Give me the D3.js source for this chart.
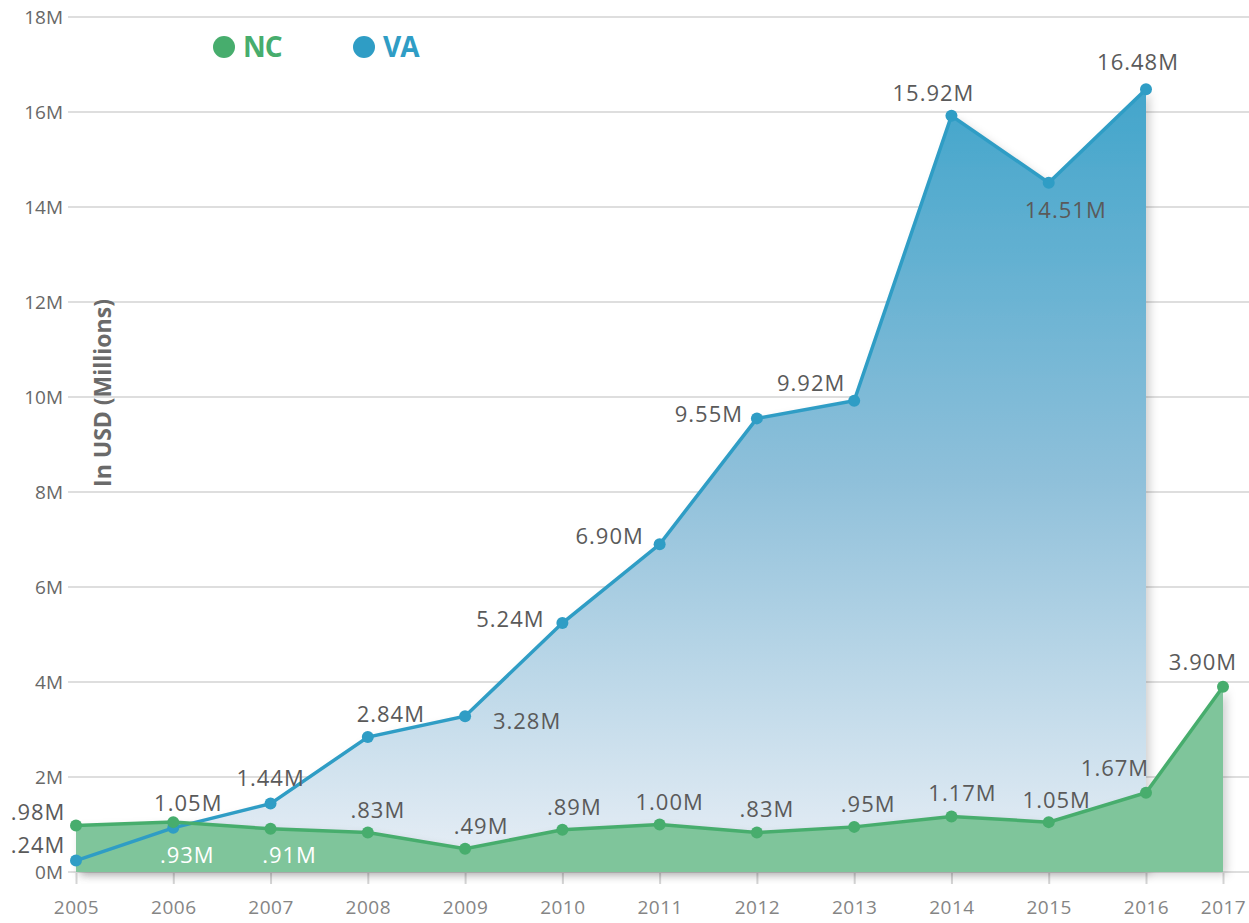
<!DOCTYPE html>
<html>
<head>
<meta charset="utf-8">
<script src="https://cdn.jsdelivr.net/npm/d3@7/dist/d3.min.js"></script>
<style>
  html, body { margin: 0; padding: 0; background: #fff; }
  svg { display: block; font-family: "Open Sans", sans-serif; }
</style>
</head>
<body>
<div id="chart"></div>
<script>
// data (millions of USD)
var years = [2005, 2006, 2007, 2008, 2009, 2010, 2011, 2012, 2013, 2014, 2015, 2016, 2017];
var vaValues = [0.24, 0.93, 1.44, 2.84, 3.28, 5.24, 6.90, 9.55, 9.92, 15.92, 14.51, 16.48];
var ncValues = [0.98, 1.05, 0.91, 0.83, 0.49, 0.89, 1.00, 0.83, 0.95, 1.17, 1.05, 1.67, 3.90];
var yTicks = [0, 2, 4, 6, 8, 10, 12, 14, 16, 18];

// label placement relative to each point [dx, dy]
var vaLabelOffsets = [[-38, -16], [14, 27], [0, -26], [23, -23], [62, 5], [-52, -4],
    [-50, -8], [-48, -4], [-43, -18], [-18, -23], [17, 27], [-8, -27]];
var ncLabelOffsets = [[-38, -13], [15, -19], [19, 26], [10, -22], [16, -23], [12, -23],
    [10, -22], [10, -23], [14, -23], [11, -23], [8, -22], [-31, -25], [-20, -25]];
var vaWhiteLabels = [1];   // indexes drawn in white (inside the green area)
var ncWhiteLabels = [2];

var width = 1249, height = 923;
var blue = '#2f9dc5', green = '#47ad6d', greenFill = '#7fc59b';

var svg = d3.select('#chart').append('svg')
    .attr('width', width)
    .attr('height', height);

// last year sits closer than the others in the original
var x = d3.scaleLinear().domain([2005, 2016, 2017]).range([76, 1146, 1223]);
var y = d3.scaleLinear().domain([0, 18]).range([872, 17]);

var defs = svg.append('defs');
var grad = defs.append('linearGradient')
    .attr('id', 'vaGrad')
    .attr('gradientUnits', 'userSpaceOnUse')
    .attr('x1', 0).attr('x2', 0)
    .attr('y1', y(16.48)).attr('y2', y(0));
grad.append('stop').attr('offset', '0%').attr('stop-color', '#42a5cb');
grad.append('stop').attr('offset', '50%').attr('stop-color', '#8fc0da');
grad.append('stop').attr('offset', '100%').attr('stop-color', '#e9eff6');

var shadow = defs.append('filter').attr('id', 'shadow')
    .attr('x', '-5%').attr('y', '-5%').attr('width', '115%').attr('height', '115%');
shadow.append('feDropShadow')
    .attr('dx', 4).attr('dy', 3).attr('stdDeviation', 4)
    .attr('flood-color', '#000').attr('flood-opacity', 0.18);

// gridlines
svg.append('g')
    .selectAll('line')
    .data(yTicks)
    .enter()
    .append('line')
    .attr('x1', 68).attr('x2', width)
    .attr('y1', function(d) { return y(d); })
    .attr('y2', function(d) { return y(d); })
    .attr('stroke', '#dedede')
    .attr('stroke-width', 2);

// y axis labels
var yAxis = svg.append('g')
    .attr('transform', 'translate(65,0)')
    .call(d3.axisLeft(y).tickValues(yTicks).tickSize(0).tickPadding(2)
        .tickFormat(function(d) { return d + 'M'; }));
yAxis.select('.domain').remove();
yAxis.selectAll('text')
    .attr('font-family', '"Open Sans", sans-serif')
    .attr('font-size', 19)
    .attr('fill', '#686868');

// x axis
var xAxis = svg.append('g')
    .attr('transform', 'translate(0,' + (y(0) + 1) + ')')
    .call(d3.axisBottom(x).tickValues(years).tickSize(11).tickPadding(17)
        .tickFormat(d3.format('d')));
xAxis.select('.domain').remove();
xAxis.selectAll('line').attr('stroke', '#d5d5d5').attr('stroke-width', 2);
xAxis.selectAll('text')
    .attr('font-family', '"Open Sans", sans-serif')
    .attr('font-size', 19)
    .attr('letter-spacing', 0.5)
    .attr('fill', '#858585');

var vaData = vaValues.map(function(v, i) { return { year: years[i], value: v }; });
var ncData = ncValues.map(function(v, i) { return { year: years[i], value: v }; });

var area = d3.area()
    .x(function(d) { return x(d.year); })
    .y0(y(0))
    .y1(function(d) { return y(d.value); });
var line = d3.line()
    .x(function(d) { return x(d.year); })
    .y(function(d) { return y(d.value); });

svg.append('path')
    .datum(vaData)
    .attr('d', area)
    .attr('fill', 'url(#vaGrad)')
    .attr('filter', 'url(#shadow)');

svg.append('path')
    .datum(ncData)
    .attr('d', area)
    .attr('fill', greenFill)
    .attr('filter', 'url(#shadow)');

svg.append('path')
    .datum(vaData)
    .attr('d', line)
    .attr('fill', 'none')
    .attr('stroke', blue)
    .attr('stroke-width', 3.5);

svg.append('path')
    .datum(ncData)
    .attr('d', line)
    .attr('fill', 'none')
    .attr('stroke', green)
    .attr('stroke-width', 3.5);

function drawPoints(data, color) {
    svg.append('g')
        .selectAll('circle')
        .data(data)
        .enter()
        .append('circle')
        .attr('cx', function(d) { return x(d.year); })
        .attr('cy', function(d) { return y(d.value); })
        .attr('r', 6)
        .attr('fill', color);
}
drawPoints(vaData, blue);
drawPoints(ncData, green);

function fmt(v) {
    return d3.format('.2f')(v).replace(/^0/, '') + 'M';
}

function drawLabels(data, offsets, whites) {
    svg.append('g')
        .selectAll('text')
        .data(data)
        .enter()
        .append('text')
        .attr('x', function(d, i) { return x(d.year) + offsets[i][0]; })
        .attr('y', function(d, i) { return y(d.value) + offsets[i][1]; })
        .attr('dy', '0.36em')
        .attr('text-anchor', 'middle')
        .attr('font-size', 22)
        .attr('letter-spacing', 1)
        .attr('fill', function(d, i) { return whites.indexOf(i) >= 0 ? '#fff' : '#5a5a5a'; })
        .text(function(d) { return fmt(d.value); });
}
drawLabels(vaData, vaLabelOffsets, vaWhiteLabels);
drawLabels(ncData, ncLabelOffsets, ncWhiteLabels);

// y axis title
svg.append('text')
    .attr('transform', 'translate(111,393) rotate(-90)')
    .attr('text-anchor', 'middle')
    .attr('font-size', 23)
    .attr('font-weight', 'bold')
    .attr('fill', '#6a6a6a')
    .text('In USD (Millions)');

// legend
var legend = svg.append('g');
var legendItems = [{ name: 'NC', color: green, x: 224 }, { name: 'VA', color: blue, x: 364 }];
legendItems.forEach(function(item) {
    legend.append('circle')
        .attr('cx', item.x).attr('cy', 47).attr('r', 11)
        .attr('fill', item.color);
    legend.append('text')
        .attr('x', item.x + 19).attr('y', 57)
        .attr('font-size', 28)
        .attr('font-weight', 'bold')
        .attr('letter-spacing', -1)
        .attr('fill', item.color)
        .text(item.name);
});
</script>
</body>
</html>
